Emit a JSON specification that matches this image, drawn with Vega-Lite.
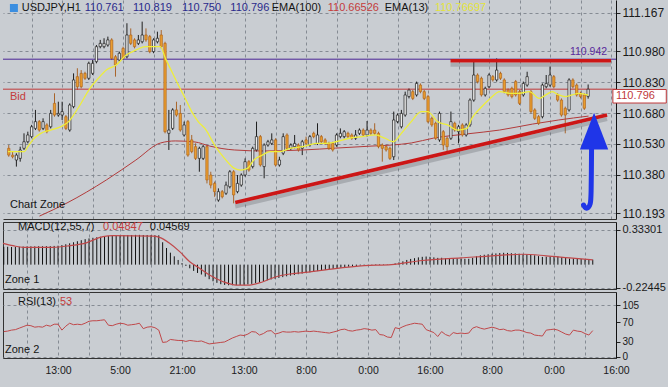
{
  "$schema": "https://vega.github.io/schema/vega-lite/v6.json",
  "padding": {"left": 0, "top": 0, "right": 1, "bottom": 11},
  "background": "#c9cdd2",
  "spacing": 3,
  "bounds": "flush",
  "config": {
    "font": "Liberation Sans",
    "view": {"stroke": "#333333", "strokeWidth": 1},
    "axis": {"labelFont": "Liberation Sans", "labelColor": "#1a1a1a", "gridColor": "#7d848c", "gridDash": [3, 3], "gridOpacity": 0.9, "domainColor": "#222222", "tickColor": "#222222", "title": null, "labelOverlap": false, "labelFlush": false, "labelBound": false}
  },
  "datasets": {
    "cd": [
      {"t":2,"o":110.508,"h":110.524,"l":110.467,"c":110.475},
      {"t":3,"o":110.475,"h":110.492,"l":110.459,"c":110.467},
      {"t":4,"o":110.451,"h":110.484,"l":110.419,"c":110.475},
      {"t":5,"o":110.459,"h":110.516,"l":110.443,"c":110.500},
      {"t":6,"o":110.508,"h":110.581,"l":110.500,"c":110.540},
      {"t":7,"o":110.540,"h":110.589,"l":110.532,"c":110.573},
      {"t":8,"o":110.565,"h":110.622,"l":110.557,"c":110.613},
      {"t":9,"o":110.605,"h":110.695,"l":110.597,"c":110.638},
      {"t":10,"o":110.638,"h":110.646,"l":110.589,"c":110.597},
      {"t":11,"o":110.605,"h":110.654,"l":110.597,"c":110.638},
      {"t":12,"o":110.622,"h":110.630,"l":110.581,"c":110.589},
      {"t":13,"o":110.613,"h":110.695,"l":110.605,"c":110.678},
      {"t":14,"o":110.727,"h":110.776,"l":110.662,"c":110.670},
      {"t":15,"o":110.670,"h":110.735,"l":110.662,"c":110.678},
      {"t":16,"o":110.670,"h":110.735,"l":110.646,"c":110.687},
      {"t":17,"o":110.662,"h":110.670,"l":110.597,"c":110.605},
      {"t":18,"o":110.597,"h":110.727,"l":110.589,"c":110.719},
      {"t":19,"o":110.711,"h":110.873,"l":110.703,"c":110.841},
      {"t":20,"o":110.857,"h":110.898,"l":110.792,"c":110.808},
      {"t":21,"o":110.873,"h":110.889,"l":110.800,"c":110.808},
      {"t":22,"o":110.873,"h":110.881,"l":110.841,"c":110.849},
      {"t":23,"o":110.849,"h":110.930,"l":110.841,"c":110.922},
      {"t":24,"o":110.873,"h":110.938,"l":110.865,"c":110.922},
      {"t":25,"o":110.930,"h":111.011,"l":110.922,"c":111.003},
      {"t":26,"o":111.003,"h":111.036,"l":110.995,"c":111.019},
      {"t":27,"o":111.003,"h":111.044,"l":110.995,"c":111.019},
      {"t":28,"o":111.011,"h":111.052,"l":111.003,"c":111.036},
      {"t":29,"o":111.036,"h":111.044,"l":110.938,"c":110.946},
      {"t":30,"o":110.954,"h":110.962,"l":110.857,"c":110.914},
      {"t":31,"o":110.938,"h":110.979,"l":110.930,"c":110.971},
      {"t":32,"o":110.995,"h":111.003,"l":110.938,"c":110.946},
      {"t":33,"o":110.954,"h":111.117,"l":110.946,"c":111.060},
      {"t":34,"o":111.060,"h":111.092,"l":111.011,"c":111.019},
      {"t":35,"o":111.036,"h":111.044,"l":110.995,"c":111.003},
      {"t":36,"o":111.019,"h":111.060,"l":111.011,"c":111.036},
      {"t":37,"o":111.027,"h":111.125,"l":111.019,"c":111.060},
      {"t":38,"o":111.060,"h":111.092,"l":111.027,"c":111.036},
      {"t":39,"o":111.052,"h":111.060,"l":110.971,"c":110.979},
      {"t":40,"o":110.979,"h":111.044,"l":110.971,"c":111.036},
      {"t":41,"o":111.027,"h":111.076,"l":111.019,"c":111.044},
      {"t":42,"o":111.060,"h":111.084,"l":110.995,"c":111.003},
      {"t":43,"o":111.019,"h":111.027,"l":110.581,"c":110.589},
      {"t":44,"o":110.581,"h":110.695,"l":110.500,"c":110.597},
      {"t":45,"o":110.605,"h":110.703,"l":110.597,"c":110.695},
      {"t":46,"o":110.695,"h":110.735,"l":110.662,"c":110.670},
      {"t":47,"o":110.678,"h":110.719,"l":110.589,"c":110.597},
      {"t":48,"o":110.573,"h":110.638,"l":110.565,"c":110.622},
      {"t":49,"o":110.638,"h":110.646,"l":110.467,"c":110.475},
      {"t":50,"o":110.549,"h":110.573,"l":110.484,"c":110.492},
      {"t":51,"o":110.516,"h":110.532,"l":110.451,"c":110.459},
      {"t":52,"o":110.459,"h":110.516,"l":110.394,"c":110.508},
      {"t":53,"o":110.459,"h":110.524,"l":110.451,"c":110.516},
      {"t":54,"o":110.516,"h":110.524,"l":110.337,"c":110.354},
      {"t":55,"o":110.378,"h":110.394,"l":110.313,"c":110.329},
      {"t":56,"o":110.337,"h":110.346,"l":110.272,"c":110.297},
      {"t":57,"o":110.256,"h":110.313,"l":110.248,"c":110.297},
      {"t":58,"o":110.297,"h":110.305,"l":110.264,"c":110.272},
      {"t":59,"o":110.289,"h":110.346,"l":110.281,"c":110.329},
      {"t":60,"o":110.321,"h":110.402,"l":110.313,"c":110.394},
      {"t":61,"o":110.394,"h":110.402,"l":110.240,"c":110.281},
      {"t":62,"o":110.297,"h":110.378,"l":110.289,"c":110.337},
      {"t":63,"o":110.329,"h":110.386,"l":110.321,"c":110.378},
      {"t":64,"o":110.378,"h":110.459,"l":110.370,"c":110.443},
      {"t":65,"o":110.443,"h":110.451,"l":110.394,"c":110.402},
      {"t":66,"o":110.419,"h":110.516,"l":110.410,"c":110.508},
      {"t":67,"o":110.500,"h":110.638,"l":110.492,"c":110.565},
      {"t":68,"o":110.565,"h":110.573,"l":110.419,"c":110.427},
      {"t":69,"o":110.419,"h":110.532,"l":110.362,"c":110.524},
      {"t":70,"o":110.524,"h":110.549,"l":110.516,"c":110.540},
      {"t":71,"o":110.532,"h":110.581,"l":110.524,"c":110.549},
      {"t":72,"o":110.549,"h":110.557,"l":110.419,"c":110.427},
      {"t":73,"o":110.427,"h":110.467,"l":110.419,"c":110.451},
      {"t":74,"o":110.484,"h":110.581,"l":110.475,"c":110.565},
      {"t":75,"o":110.573,"h":110.581,"l":110.500,"c":110.508},
      {"t":76,"o":110.508,"h":110.532,"l":110.500,"c":110.524},
      {"t":77,"o":110.516,"h":110.573,"l":110.508,"c":110.532},
      {"t":78,"o":110.524,"h":110.532,"l":110.492,"c":110.500},
      {"t":79,"o":110.508,"h":110.549,"l":110.475,"c":110.540},
      {"t":80,"o":110.549,"h":110.565,"l":110.524,"c":110.532},
      {"t":81,"o":110.524,"h":110.573,"l":110.516,"c":110.565},
      {"t":82,"o":110.581,"h":110.589,"l":110.557,"c":110.565},
      {"t":83,"o":110.532,"h":110.630,"l":110.524,"c":110.573},
      {"t":84,"o":110.565,"h":110.573,"l":110.532,"c":110.540},
      {"t":85,"o":110.549,"h":110.557,"l":110.524,"c":110.532},
      {"t":86,"o":110.532,"h":110.540,"l":110.500,"c":110.508},
      {"t":87,"o":110.532,"h":110.540,"l":110.492,"c":110.500},
      {"t":88,"o":110.524,"h":110.581,"l":110.516,"c":110.573},
      {"t":89,"o":110.565,"h":110.605,"l":110.557,"c":110.581},
      {"t":90,"o":110.565,"h":110.597,"l":110.557,"c":110.589},
      {"t":91,"o":110.581,"h":110.589,"l":110.557,"c":110.565},
      {"t":92,"o":110.573,"h":110.581,"l":110.549,"c":110.557},
      {"t":93,"o":110.557,"h":110.597,"l":110.549,"c":110.573},
      {"t":94,"o":110.581,"h":110.605,"l":110.573,"c":110.597},
      {"t":95,"o":110.597,"h":110.605,"l":110.565,"c":110.573},
      {"t":96,"o":110.573,"h":110.641,"l":110.565,"c":110.597},
      {"t":97,"o":110.597,"h":110.605,"l":110.573,"c":110.581},
      {"t":98,"o":110.597,"h":110.630,"l":110.573,"c":110.581},
      {"t":99,"o":110.581,"h":110.589,"l":110.508,"c":110.516},
      {"t":100,"o":110.524,"h":110.532,"l":110.443,"c":110.508},
      {"t":101,"o":110.516,"h":110.524,"l":110.492,"c":110.500},
      {"t":102,"o":110.508,"h":110.516,"l":110.451,"c":110.459},
      {"t":103,"o":110.467,"h":110.687,"l":110.451,"c":110.646},
      {"t":104,"o":110.638,"h":110.678,"l":110.630,"c":110.670},
      {"t":105,"o":110.613,"h":110.695,"l":110.605,"c":110.678},
      {"t":106,"o":110.670,"h":110.784,"l":110.662,"c":110.768},
      {"t":107,"o":110.760,"h":110.800,"l":110.751,"c":110.792},
      {"t":108,"o":110.784,"h":110.792,"l":110.743,"c":110.751},
      {"t":109,"o":110.768,"h":110.833,"l":110.760,"c":110.824},
      {"t":110,"o":110.816,"h":110.824,"l":110.776,"c":110.784},
      {"t":111,"o":110.784,"h":110.792,"l":110.743,"c":110.751},
      {"t":112,"o":110.760,"h":110.768,"l":110.630,"c":110.638},
      {"t":113,"o":110.654,"h":110.662,"l":110.613,"c":110.622},
      {"t":114,"o":110.630,"h":110.638,"l":110.549,"c":110.557},
      {"t":115,"o":110.549,"h":110.687,"l":110.540,"c":110.678},
      {"t":116,"o":110.589,"h":110.597,"l":110.500,"c":110.524},
      {"t":117,"o":110.557,"h":110.565,"l":110.492,"c":110.516},
      {"t":118,"o":110.557,"h":110.687,"l":110.549,"c":110.638},
      {"t":119,"o":110.630,"h":110.638,"l":110.589,"c":110.597},
      {"t":120,"o":110.589,"h":110.622,"l":110.532,"c":110.613},
      {"t":121,"o":110.622,"h":110.630,"l":110.565,"c":110.573},
      {"t":122,"o":110.573,"h":110.630,"l":110.565,"c":110.622},
      {"t":123,"o":110.622,"h":110.751,"l":110.613,"c":110.743},
      {"t":124,"o":110.743,"h":110.930,"l":110.735,"c":110.865},
      {"t":125,"o":110.865,"h":110.873,"l":110.824,"c":110.833},
      {"t":126,"o":110.849,"h":110.857,"l":110.760,"c":110.768},
      {"t":127,"o":110.768,"h":110.808,"l":110.760,"c":110.800},
      {"t":128,"o":110.808,"h":110.873,"l":110.800,"c":110.865},
      {"t":129,"o":110.857,"h":110.865,"l":110.833,"c":110.841},
      {"t":130,"o":110.841,"h":110.946,"l":110.833,"c":110.889},
      {"t":131,"o":110.873,"h":110.881,"l":110.841,"c":110.849},
      {"t":132,"o":110.841,"h":110.849,"l":110.776,"c":110.784},
      {"t":133,"o":110.792,"h":110.800,"l":110.760,"c":110.768},
      {"t":134,"o":110.800,"h":110.808,"l":110.751,"c":110.760},
      {"t":135,"o":110.833,"h":110.841,"l":110.760,"c":110.768},
      {"t":136,"o":110.784,"h":110.792,"l":110.719,"c":110.727},
      {"t":137,"o":110.768,"h":110.833,"l":110.760,"c":110.824},
      {"t":138,"o":110.816,"h":110.881,"l":110.808,"c":110.857},
      {"t":139,"o":110.784,"h":110.792,"l":110.678,"c":110.687},
      {"t":140,"o":110.695,"h":110.703,"l":110.646,"c":110.654},
      {"t":141,"o":110.662,"h":110.670,"l":110.622,"c":110.630},
      {"t":142,"o":110.662,"h":110.824,"l":110.654,"c":110.816},
      {"t":143,"o":110.808,"h":110.865,"l":110.800,"c":110.824},
      {"t":144,"o":110.816,"h":110.906,"l":110.808,"c":110.865},
      {"t":145,"o":110.857,"h":110.865,"l":110.800,"c":110.808},
      {"t":146,"o":110.768,"h":110.776,"l":110.735,"c":110.743},
      {"t":147,"o":110.743,"h":110.751,"l":110.662,"c":110.670},
      {"t":148,"o":110.703,"h":110.711,"l":110.581,"c":110.670},
      {"t":149,"o":110.695,"h":110.849,"l":110.687,"c":110.841},
      {"t":150,"o":110.841,"h":110.849,"l":110.800,"c":110.808},
      {"t":151,"o":110.816,"h":110.824,"l":110.760,"c":110.768},
      {"t":152,"o":110.776,"h":110.784,"l":110.751,"c":110.760},
      {"t":153,"o":110.768,"h":110.776,"l":110.695,"c":110.703},
      {"t":154,"o":110.761,"h":110.819,"l":110.750,"c":110.796}
    ],
    "e13": [
      {"t":1.8,"p":110.492},{"t":6.1,"p":110.492},{"t":7,"p":110.516},{"t":8.7,"p":110.557},{"t":10.4,"p":110.581},{"t":13,"p":110.597},{"t":15.6,"p":110.613},{"t":17.7,"p":110.638},{"t":19,"p":110.67},{"t":20.7,"p":110.719},{"t":23.3,"p":110.8},{"t":25.5,"p":110.849},{"t":27.6,"p":110.889},{"t":30.2,"p":110.914},{"t":32.8,"p":110.962},{"t":35.4,"p":110.987},{"t":37.9,"p":111.003},{"t":39.7,"p":111.003},{"t":41.8,"p":111.003},{"t":43.1,"p":110.946},{"t":44.8,"p":110.881},{"t":46.5,"p":110.816},{"t":48.3,"p":110.751},{"t":50,"p":110.687},{"t":51.7,"p":110.638},{"t":53.6,"p":110.601},{"t":56,"p":110.524},{"t":58.6,"p":110.459},{"t":61.2,"p":110.41},{"t":62.9,"p":110.402},{"t":64.6,"p":110.41},{"t":66.3,"p":110.451},{"t":68.5,"p":110.475},{"t":70.6,"p":110.492},{"t":73.2,"p":110.492},{"t":75.8,"p":110.508},{"t":79.2,"p":110.516},{"t":82.7,"p":110.532},{"t":85.3,"p":110.532},{"t":87.8,"p":110.54},{"t":91.3,"p":110.557},{"t":94.7,"p":110.565},{"t":98.2,"p":110.573},{"t":100.7,"p":110.557},{"t":102.9,"p":110.54},{"t":105,"p":110.581},{"t":107.6,"p":110.638},{"t":110.2,"p":110.687},{"t":111.9,"p":110.687},{"t":114.5,"p":110.638},{"t":117.1,"p":110.622},{"t":119.7,"p":110.597},{"t":122.2,"p":110.605},{"t":123.5,"p":110.654},{"t":125.7,"p":110.703},{"t":128.3,"p":110.751},{"t":130.8,"p":110.784},{"t":133.4,"p":110.776},{"t":136,"p":110.776},{"t":138.6,"p":110.784},{"t":141.2,"p":110.751},{"t":142.9,"p":110.768},{"t":144.6,"p":110.784},{"t":146.3,"p":110.768},{"t":148,"p":110.76},{"t":149.8,"p":110.768},{"t":151.5,"p":110.776},{"t":154,"p":110.767}
    ],
    "e100": [
      {"t":10.06,"p":110.178},{"t":17.29,"p":110.242},{"t":27.61,"p":110.354},{"t":35.35,"p":110.451},{"t":41.81,"p":110.534},{"t":45.68,"p":110.544},{"t":50.84,"p":110.539},{"t":54.71,"p":110.519},{"t":61.16,"p":110.5},{"t":68.9,"p":110.495},{"t":79.23,"p":110.5},{"t":87.74,"p":110.509},{"t":97.29,"p":110.519},{"t":102.45,"p":110.524},{"t":107.6,"p":110.534},{"t":113.5,"p":110.558},{"t":122.1,"p":110.578},{"t":130.8,"p":110.597},{"t":139.4,"p":110.626},{"t":146.3,"p":110.646},{"t":154.1,"p":110.665}
    ],
    "lv": [{"name":"bid","p":110.796},{"name":"mark","p":110.942}],
    "tl": [{"t":61.42,"p":110.244},{"t":158.97,"p":110.670}],
    "rs": [{"t":117.9,"p":110.934},{"t":160,"p":110.934}],
    "shaft": [{"t":154.9,"p":110.509},{"t":154.8,"p":110.266},{"t":154.6,"p":110.237},{"t":154.1,"p":110.217},{"t":153.3,"p":110.215},{"t":152.8,"p":110.232}],
    "head": [{"t":155.56,"p":110.592}],
    "tx": [
      {"t":5.42,"p":111.1914,"s":"USDJPY,H1","k":"blk"},
      {"t":21.94,"p":111.1914,"s":"110.761","k":"ohlc"},
      {"t":34.58,"p":111.1914,"s":"110.819","k":"ohlc"},
      {"t":47.48,"p":111.1914,"s":"110.750","k":"ohlc"},
      {"t":60.13,"p":111.1914,"s":"110.796","k":"ohlc"},
      {"t":70.97,"p":111.1914,"s":"EMA(100)","k":"blk"},
      {"t":85.68,"p":111.1914,"s":"110.66526","k":"red"},
      {"t":100.65,"p":111.1914,"s":"EMA(13)","k":"blk"},
      {"t":113.81,"p":111.1914,"s":"110.76697","k":"yel"},
      {"t":2.32,"p":110.758,"s":"Bid","k":"red"},
      {"t":2.32,"p":110.232,"s":"Chart Zone","k":"blk"}
    ],
    "icon": [{"t":3.35,"p":111.1914}],
    "mk": [{"t":158.97,"p":110.977,"s":"110.942"}],
    "bx": [{"t1":160.5,"t2":174.5,"p1":110.7944,"p2":110.7286,"tm":161.3,"pm":110.7615,"s":"110.796"}],
    "md": [
      {"t":2,"v":0.172},{"t":3,"v":0.172},{"t":4,"v":0.17},{"t":5,"v":0.17},{"t":6,"v":0.172},{"t":7,"v":0.174},{"t":8,"v":0.175},{"t":9,"v":0.176},{"t":10,"v":0.176},{"t":11,"v":0.177},{"t":12,"v":0.177},{"t":13,"v":0.178},{"t":14,"v":0.178},{"t":15,"v":0.18},{"t":16,"v":0.182},{"t":17,"v":0.188},{"t":18,"v":0.196},{"t":19,"v":0.205},{"t":20,"v":0.215},{"t":21,"v":0.225},{"t":22,"v":0.235},{"t":23,"v":0.245},{"t":24,"v":0.252},{"t":25,"v":0.258},{"t":26,"v":0.263},{"t":27,"v":0.268},{"t":28,"v":0.272},{"t":29,"v":0.275},{"t":30,"v":0.278},{"t":31,"v":0.28},{"t":32,"v":0.282},{"t":33,"v":0.284},{"t":34,"v":0.285},{"t":35,"v":0.285},{"t":36,"v":0.286},{"t":37,"v":0.286},{"t":38,"v":0.285},{"t":39,"v":0.285},{"t":40,"v":0.284},{"t":41,"v":0.283},{"t":42,"v":0.282},{"t":43,"v":0.215},{"t":44,"v":0.16},{"t":45,"v":0.115},{"t":46,"v":0.08},{"t":47,"v":0.045},{"t":48,"v":0.015},{"t":49,"v":-0.012},{"t":50,"v":-0.035},{"t":51,"v":-0.06},{"t":52,"v":-0.08},{"t":53,"v":-0.095},{"t":54,"v":-0.115},{"t":55,"v":-0.14},{"t":56,"v":-0.16},{"t":57,"v":-0.175},{"t":58,"v":-0.188},{"t":59,"v":-0.195},{"t":60,"v":-0.198},{"t":61,"v":-0.198},{"t":62,"v":-0.197},{"t":63,"v":-0.196},{"t":64,"v":-0.194},{"t":65,"v":-0.19},{"t":66,"v":-0.185},{"t":67,"v":-0.178},{"t":68,"v":-0.17},{"t":69,"v":-0.16},{"t":70,"v":-0.15},{"t":71,"v":-0.142},{"t":72,"v":-0.135},{"t":73,"v":-0.128},{"t":74,"v":-0.12},{"t":75,"v":-0.112},{"t":76,"v":-0.105},{"t":77,"v":-0.1},{"t":78,"v":-0.092},{"t":79,"v":-0.086},{"t":80,"v":-0.08},{"t":81,"v":-0.074},{"t":82,"v":-0.068},{"t":83,"v":-0.062},{"t":84,"v":-0.056},{"t":85,"v":-0.05},{"t":86,"v":-0.045},{"t":87,"v":-0.04},{"t":88,"v":-0.035},{"t":89,"v":-0.03},{"t":90,"v":-0.025},{"t":91,"v":-0.02},{"t":92,"v":-0.016},{"t":93,"v":-0.012},{"t":94,"v":-0.008},{"t":95,"v":-0.004},{"t":96,"v":0.001},{"t":97,"v":0.003},{"t":98,"v":0.005},{"t":99,"v":0.005},{"t":100,"v":0.004},{"t":101,"v":0.003},{"t":102,"v":0.002},{"t":103,"v":0.012},{"t":104,"v":0.022},{"t":105,"v":0.032},{"t":106,"v":0.045},{"t":107,"v":0.055},{"t":108,"v":0.062},{"t":109,"v":0.07},{"t":110,"v":0.075},{"t":111,"v":0.078},{"t":112,"v":0.075},{"t":113,"v":0.07},{"t":114,"v":0.065},{"t":115,"v":0.066},{"t":116,"v":0.062},{"t":117,"v":0.058},{"t":118,"v":0.06},{"t":119,"v":0.06},{"t":120,"v":0.058},{"t":121,"v":0.056},{"t":122,"v":0.056},{"t":123,"v":0.065},{"t":124,"v":0.08},{"t":125,"v":0.09},{"t":126,"v":0.095},{"t":127,"v":0.1},{"t":128,"v":0.105},{"t":129,"v":0.108},{"t":130,"v":0.112},{"t":131,"v":0.114},{"t":132,"v":0.113},{"t":133,"v":0.11},{"t":134,"v":0.108},{"t":135,"v":0.105},{"t":136,"v":0.1},{"t":137,"v":0.098},{"t":138,"v":0.097},{"t":139,"v":0.09},{"t":140,"v":0.082},{"t":141,"v":0.074},{"t":142,"v":0.076},{"t":143,"v":0.078},{"t":144,"v":0.08},{"t":145,"v":0.078},{"t":146,"v":0.072},{"t":147,"v":0.064},{"t":148,"v":0.058},{"t":149,"v":0.06},{"t":150,"v":0.058},{"t":151,"v":0.055},{"t":152,"v":0.052},{"t":153,"v":0.048},{"t":154,"v":0.048}
    ],
    "sg": [
      {"t":1.8,"v":0.205},{"t":4.4,"v":0.182},{"t":7,"v":0.166},{"t":14.7,"v":0.166},{"t":19,"v":0.182},{"t":23.3,"v":0.21},{"t":27.6,"v":0.27},{"t":30.2,"v":0.278},{"t":40.5,"v":0.275},{"t":42.2,"v":0.262},{"t":44.8,"v":0.205},{"t":47.4,"v":0.125},{"t":50,"v":0.028},{"t":52.6,"v":-0.036},{"t":55.1,"v":-0.1},{"t":58.6,"v":-0.164},{"t":62,"v":-0.196},{"t":65.5,"v":-0.196},{"t":68.9,"v":-0.164},{"t":72.3,"v":-0.116},{"t":75.8,"v":-0.09},{"t":79.2,"v":-0.077},{"t":85,"v":-0.05},{"t":95,"v":-0.01},{"t":102,"v":0.0},{"t":110,"v":0.04},{"t":120,"v":0.065},{"t":130,"v":0.09},{"t":136,"v":0.1},{"t":142,"v":0.085},{"t":148,"v":0.065},{"t":154,"v":0.046}
    ],
    "mt": [
      {"t":5.68,"v":0.364,"s":"MACD(12,55,7)","k":"blk"},
      {"t":27.6,"v":0.364,"s":"0.04847","k":"red"},
      {"t":39.7,"v":0.364,"s":"0.04569","k":"blk"},
      {"t":2.32,"v":-0.148,"s":"Zone 1","k":"blk"}
    ],
    "rsi": [
      {"t":2,"v":51},{"t":3,"v":52},{"t":4,"v":54},{"t":5,"v":55},{"t":6,"v":58},{"t":7,"v":61},{"t":8,"v":64},{"t":9,"v":63},{"t":10,"v":60},{"t":11,"v":61},{"t":12,"v":60},{"t":13,"v":64},{"t":14,"v":62},{"t":15,"v":66},{"t":16,"v":66},{"t":17,"v":54},{"t":18,"v":62},{"t":19,"v":68},{"t":20,"v":65},{"t":21,"v":66},{"t":22,"v":65},{"t":23,"v":68},{"t":24,"v":72},{"t":25,"v":73},{"t":26,"v":73},{"t":27,"v":74},{"t":28,"v":75},{"t":29,"v":64},{"t":30,"v":63},{"t":31,"v":66},{"t":32,"v":68},{"t":33,"v":67},{"t":34,"v":64},{"t":35,"v":65},{"t":36,"v":66},{"t":37,"v":68},{"t":38,"v":57},{"t":39,"v":60},{"t":40,"v":61},{"t":41,"v":59},{"t":42,"v":54},{"t":43,"v":29},{"t":44,"v":30},{"t":45,"v":35},{"t":46,"v":34},{"t":47,"v":33},{"t":48,"v":33},{"t":49,"v":31},{"t":50,"v":33},{"t":51,"v":32},{"t":52,"v":31},{"t":53,"v":32},{"t":54,"v":29},{"t":55,"v":26},{"t":56,"v":27},{"t":57,"v":28},{"t":58,"v":29},{"t":59,"v":30},{"t":60,"v":34},{"t":61,"v":38},{"t":62,"v":41},{"t":63,"v":44},{"t":64,"v":43},{"t":65,"v":46},{"t":66,"v":51},{"t":67,"v":50},{"t":68,"v":44},{"t":69,"v":47},{"t":70,"v":52},{"t":71,"v":53},{"t":72,"v":46},{"t":73,"v":48},{"t":74,"v":51},{"t":75,"v":50},{"t":76,"v":50},{"t":77,"v":51},{"t":78,"v":50},{"t":79,"v":51},{"t":80,"v":52},{"t":81,"v":51},{"t":82,"v":52},{"t":83,"v":51},{"t":84,"v":50},{"t":85,"v":49},{"t":86,"v":48},{"t":87,"v":50},{"t":88,"v":52},{"t":89,"v":55},{"t":90,"v":56},{"t":91,"v":53},{"t":92,"v":52},{"t":93,"v":54},{"t":94,"v":55},{"t":95,"v":57},{"t":96,"v":56},{"t":97,"v":54},{"t":98,"v":55},{"t":99,"v":45},{"t":100,"v":44},{"t":101,"v":40},{"t":102,"v":39},{"t":103,"v":59},{"t":104,"v":57},{"t":105,"v":61},{"t":106,"v":64},{"t":107,"v":66},{"t":108,"v":68},{"t":109,"v":67},{"t":110,"v":66},{"t":111,"v":55},{"t":112,"v":52},{"t":113,"v":49},{"t":114,"v":41},{"t":115,"v":51},{"t":116,"v":45},{"t":117,"v":42},{"t":118,"v":49},{"t":119,"v":47},{"t":120,"v":48},{"t":121,"v":47},{"t":122,"v":48},{"t":123,"v":58},{"t":124,"v":61},{"t":125,"v":58},{"t":126,"v":56},{"t":127,"v":58},{"t":128,"v":60},{"t":129,"v":58},{"t":130,"v":55},{"t":131,"v":56},{"t":132,"v":53},{"t":133,"v":52},{"t":134,"v":54},{"t":135,"v":54},{"t":136,"v":52},{"t":137,"v":49},{"t":138,"v":48},{"t":139,"v":44},{"t":140,"v":43},{"t":141,"v":42},{"t":142,"v":54},{"t":143,"v":55},{"t":144,"v":56},{"t":145,"v":54},{"t":146,"v":50},{"t":147,"v":46},{"t":148,"v":44},{"t":149,"v":54},{"t":150,"v":52},{"t":151,"v":51},{"t":152,"v":47},{"t":153,"v":44},{"t":154,"v":53}
    ],
    "rt": [
      {"t":5.68,"v":111.7,"s":"RSI(13)","k":"blk"},
      {"t":16.5,"v":111.7,"s":"53","k":"red"},
      {"t":2.32,"v":13.6,"s":"Zone 2","k":"blk"}
    ]
  },
  "vconcat": [
    {
      "width": 613,
      "height": 219,
      "view": {"stroke": null},
      "resolve": {"axis": {"x": "independent", "y": "independent"}},
      "layer": [
        {
          "data": {"name": "cd"},
          "mark": {"type": "rule", "strokeWidth": 1},
          "encoding": {
            "x": {"field": "t", "type": "quantitative", "scale": {"domain": [1.8, 160], "nice": false, "zero": false},
                  "axis": {"values": [8,16,24,32,40,48,56,64,72,80,88,96,104,112,120,128,136,144,152,160], "labels": false, "ticks": false, "tickSize": 0, "labelPadding": 0, "domain": true, "domainColor": "#333333", "grid": true, "labelOverlap": false}},
            "y": {"field": "l", "type": "quantitative", "scale": {"domain": [110.1638, 111.2303], "nice": false, "zero": false},
                  "axis": {"orient": "right", "values": [110.193, 110.38, 110.53, 110.68, 110.83, 110.98, 111.167], "format": ".3f", "labelFontSize": 12, "tickSize": 4, "labelPadding": 2, "grid": true, "domainColor": "#111111", "labelOverlap": false, "labelFlush": false}},
            "y2": {"field": "h"},
            "color": {"condition": {"test": "datum.c >= datum.o", "value": "#1e1e1e"}, "value": "#a8642a"}
          }
        },
        {
          "data": {"name": "lv"},
          "transform": [{"filter": "datum.name == 'mark'"}],
          "mark": {"type": "rule", "color": "#4b2396", "strokeWidth": 1},
          "encoding": {"y": {"field": "p", "type": "quantitative", "scale": {"domain": [110.1638, 111.2303], "nice": false, "zero": false}, "axis": null}}
        },
        {
          "data": {"name": "lv"},
          "transform": [{"filter": "datum.name == 'bid'"}],
          "mark": {"type": "rule", "color": "#c0393b", "strokeWidth": 1},
          "encoding": {"y": {"field": "p", "type": "quantitative", "scale": {"domain": [110.1638, 111.2303], "nice": false, "zero": false}, "axis": null}}
        },
        {
          "data": {"name": "e100"},
          "mark": {"type": "line", "color": "#b23b3b", "strokeWidth": 1, "interpolate": "monotone"},
          "encoding": {
            "x": {"field": "t", "type": "quantitative", "scale": {"domain": [1.8, 160], "nice": false, "zero": false}, "axis": null},
            "y": {"field": "p", "type": "quantitative", "scale": {"domain": [110.1638, 111.2303], "nice": false, "zero": false}, "axis": null}
          }
        },
        {
          "data": {"name": "cd"},
          "mark": {"type": "bar", "width": 2.3, "strokeWidth": 0.7},
          "encoding": {
            "x": {"field": "t", "type": "quantitative", "scale": {"domain": [1.8, 160], "nice": false, "zero": false}, "axis": null},
            "y": {"field": "o", "type": "quantitative", "scale": {"domain": [110.1638, 111.2303], "nice": false, "zero": false}, "axis": null},
            "y2": {"field": "c"},
            "fill": {"condition": {"test": "datum.c >= datum.o", "value": "#ececec"}, "value": "#eb9e2f"},
            "stroke": {"condition": {"test": "datum.c >= datum.o", "value": "#1e1e1e"}, "value": "#b0661c"}
          }
        },
        {
          "data": {"name": "e13"},
          "mark": {"type": "line", "color": "#eeee3a", "strokeWidth": 1.3, "interpolate": "monotone"},
          "encoding": {
            "x": {"field": "t", "type": "quantitative", "scale": {"domain": [1.8, 160], "nice": false, "zero": false}, "axis": null},
            "y": {"field": "p", "type": "quantitative", "scale": {"domain": [110.1638, 111.2303], "nice": false, "zero": false}, "axis": null}
          }
        },
        {
          "data": {"name": "tl"},
          "mark": {"type": "line", "color": "#5c6066", "strokeWidth": 4, "opacity": 0.3, "yOffset": 4},
          "encoding": {
            "x": {"field": "t", "type": "quantitative", "scale": {"domain": [1.8, 160], "nice": false, "zero": false}, "axis": null},
            "y": {"field": "p", "type": "quantitative", "scale": {"domain": [110.1638, 111.2303], "nice": false, "zero": false}, "axis": null}
          }
        },
        {
          "data": {"name": "tl"},
          "mark": {"type": "line", "color": "#cc1616", "strokeWidth": 3.5},
          "encoding": {
            "x": {"field": "t", "type": "quantitative", "scale": {"domain": [1.8, 160], "nice": false, "zero": false}, "axis": null},
            "y": {"field": "p", "type": "quantitative", "scale": {"domain": [110.1638, 111.2303], "nice": false, "zero": false}, "axis": null}
          }
        },
        {
          "data": {"name": "rs"},
          "mark": {"type": "line", "color": "#5c6066", "strokeWidth": 4, "opacity": 0.3, "yOffset": 4},
          "encoding": {
            "x": {"field": "t", "type": "quantitative", "scale": {"domain": [1.8, 160], "nice": false, "zero": false}, "axis": null},
            "y": {"field": "p", "type": "quantitative", "scale": {"domain": [110.1638, 111.2303], "nice": false, "zero": false}, "axis": null}
          }
        },
        {
          "data": {"name": "rs"},
          "mark": {"type": "line", "color": "#cc1616", "strokeWidth": 3.5},
          "encoding": {
            "x": {"field": "t", "type": "quantitative", "scale": {"domain": [1.8, 160], "nice": false, "zero": false}, "axis": null},
            "y": {"field": "p", "type": "quantitative", "scale": {"domain": [110.1638, 111.2303], "nice": false, "zero": false}, "axis": null}
          }
        },
        {
          "data": {"name": "shaft"},
          "mark": {"type": "line", "color": "#1f35e8", "strokeWidth": 5, "interpolate": "basis", "strokeCap": "round"},
          "encoding": {
            "x": {"field": "t", "type": "quantitative", "scale": {"domain": [1.8, 160], "nice": false, "zero": false}, "axis": null},
            "y": {"field": "p", "type": "quantitative", "scale": {"domain": [110.1638, 111.2303], "nice": false, "zero": false}, "axis": null},
            "order": {"value": 0}
          }
        },
        {
          "data": {"name": "head"},
          "mark": {"type": "point", "shape": "M0,-1.3L-1,1.3L1,1.3Z", "size": 800, "filled": true, "color": "#1f35e8", "opacity": 1},
          "encoding": {
            "x": {"field": "t", "type": "quantitative", "scale": {"domain": [1.8, 160], "nice": false, "zero": false}, "axis": null},
            "y": {"field": "p", "type": "quantitative", "scale": {"domain": [110.1638, 111.2303], "nice": false, "zero": false}, "axis": null}
          }
        },
        {
          "data": {"name": "tx"},
          "mark": {"type": "text", "align": "left", "baseline": "middle", "font": "Liberation Sans", "fontSize": 11},
          "encoding": {
            "x": {"field": "t", "type": "quantitative", "scale": {"domain": [1.8, 160], "nice": false, "zero": false}, "axis": null},
            "y": {"field": "p", "type": "quantitative", "scale": {"domain": [110.1638, 111.2303], "nice": false, "zero": false}, "axis": null},
            "text": {"field": "s"},
            "color": {"field": "k", "type": "nominal", "scale": {"domain": ["blk", "ohlc", "red", "yel"], "range": ["#141414", "#2a2a8c", "#c43c3c", "#e4e43a"]}, "legend": null}
          }
        },
        {
          "data": {"name": "icon"},
          "mark": {"type": "square", "size": 64, "color": "#3b8ee0", "opacity": 1},
          "encoding": {
            "x": {"field": "t", "type": "quantitative", "scale": {"domain": [1.8, 160], "nice": false, "zero": false}, "axis": null},
            "y": {"field": "p", "type": "quantitative", "scale": {"domain": [110.1638, 111.2303], "nice": false, "zero": false}, "axis": null}
          }
        },
        {
          "data": {"name": "mk"},
          "mark": {"type": "text", "align": "right", "baseline": "middle", "font": "Liberation Sans", "fontSize": 10.5, "color": "#5a2a9c"},
          "encoding": {
            "x": {"field": "t", "type": "quantitative", "scale": {"domain": [1.8, 160], "nice": false, "zero": false}, "axis": null},
            "y": {"field": "p", "type": "quantitative", "scale": {"domain": [110.1638, 111.2303], "nice": false, "zero": false}, "axis": null},
            "text": {"field": "s"}
          }
        },
        {
          "data": {"name": "bx"},
          "mark": {"type": "rect", "fill": "#ffffff", "stroke": "#c0393b", "strokeWidth": 1},
          "encoding": {
            "x": {"field": "t1", "type": "quantitative", "scale": {"domain": [1.8, 160], "nice": false, "zero": false}, "axis": null},
            "x2": {"field": "t2"},
            "y": {"field": "p1", "type": "quantitative", "scale": {"domain": [110.1638, 111.2303], "nice": false, "zero": false}, "axis": null},
            "y2": {"field": "p2"}
          }
        },
        {
          "data": {"name": "bx"},
          "mark": {"type": "text", "align": "left", "baseline": "middle", "font": "Liberation Sans", "fontSize": 11, "color": "#c0393b"},
          "encoding": {
            "x": {"field": "tm", "type": "quantitative", "scale": {"domain": [1.8, 160], "nice": false, "zero": false}, "axis": null},
            "y": {"field": "pm", "type": "quantitative", "scale": {"domain": [110.1638, 111.2303], "nice": false, "zero": false}, "axis": null},
            "text": {"field": "s"}
          }
        }
      ]
    },
    {
      "width": 613,
      "height": 67,
      "resolve": {"axis": {"x": "independent", "y": "independent"}},
      "layer": [
        {
          "data": {"name": "md"},
          "mark": {"type": "rule", "color": "#111111", "strokeWidth": 1},
          "encoding": {
            "x": {"field": "t", "type": "quantitative", "scale": {"domain": [1.8, 160], "nice": false, "zero": false},
                  "axis": {"values": [8,16,24,32,40,48,56,64,72,80,88,96,104,112,120,128,136,144,152,160], "labels": false, "ticks": false, "tickSize": 0, "labelPadding": 0, "domain": false, "grid": true}},
            "y": {"field": "v", "type": "quantitative", "scale": {"domain": [-0.2341, 0.4099], "nice": false, "zero": false},
                  "axis": {"orient": "right", "values": [-0.22445, 0.33301], "labelExpr": "(datum.value < 0 ? '-' : '') + format(abs(datum.value), '.5f')", "labelFontSize": 11, "tickSize": 4, "labelPadding": 2, "grid": true, "domainColor": "#111111", "labelOverlap": false, "labelFlush": false}},
            "y2": {"datum": 0}
          }
        },
        {
          "data": {"name": "sg"},
          "mark": {"type": "line", "color": "#c0484a", "strokeWidth": 1.2, "interpolate": "monotone"},
          "encoding": {
            "x": {"field": "t", "type": "quantitative", "scale": {"domain": [1.8, 160], "nice": false, "zero": false}, "axis": null},
            "y": {"field": "v", "type": "quantitative", "scale": {"domain": [-0.2341, 0.4099], "nice": false, "zero": false}, "axis": null}
          }
        },
        {
          "data": {"name": "mt"},
          "mark": {"type": "text", "align": "left", "baseline": "middle", "font": "Liberation Sans", "fontSize": 11},
          "encoding": {
            "x": {"field": "t", "type": "quantitative", "scale": {"domain": [1.8, 160], "nice": false, "zero": false}, "axis": null},
            "y": {"field": "v", "type": "quantitative", "scale": {"domain": [-0.2341, 0.4099], "nice": false, "zero": false}, "axis": null},
            "text": {"field": "s"},
            "color": {"field": "k", "type": "nominal", "scale": {"domain": ["blk", "red"], "range": ["#141414", "#c43c3c"]}, "legend": null}
          }
        }
      ]
    },
    {
      "width": 613,
      "height": 66,
      "resolve": {"axis": {"x": "independent", "y": "independent"}},
      "layer": [
        {
          "data": {"name": "rsi"},
          "mark": {"type": "line", "color": "#c0484a", "strokeWidth": 1},
          "encoding": {
            "x": {"field": "t", "type": "quantitative", "scale": {"domain": [1.8, 160], "nice": false, "zero": false},
                  "axis": {"values": [8,16,24,32,40,48,56,64,72,80,88,96,104,112,120,128,136,144,152,160], "labelExpr": "datum.value % 16 == 0 ? ['','13:00','5:00','21:00','13:00','8:00','0:00','16:00','8:00','0:00','16:00'][datum.value / 16] : ''", "labelFontSize": 10.5, "labelPadding": 7, "ticks": false, "domain": false, "grid": true, "labelOverlap": false, "labelFlush": false}},
            "y": {"field": "v", "type": "quantitative", "scale": {"domain": [-2.6, 131.4], "nice": false, "zero": false},
                  "axis": {"orient": "right", "values": [0, 30, 70, 105], "labelFontSize": 10, "tickSize": 4, "labelPadding": 2, "grid": true, "labelOverlap": false, "labelFlush": false,
                           "gridColor": {"condition": {"test": "datum.value == 0 || datum.value == 105", "value": "#7d848c"}, "value": "rgba(0,0,0,0)"}, "domainColor": "#111111"}}
          }
        },
        {
          "data": {"name": "rt"},
          "mark": {"type": "text", "align": "left", "baseline": "middle", "font": "Liberation Sans", "fontSize": 11},
          "encoding": {
            "x": {"field": "t", "type": "quantitative", "scale": {"domain": [1.8, 160], "nice": false, "zero": false}, "axis": null},
            "y": {"field": "v", "type": "quantitative", "scale": {"domain": [-2.6, 131.4], "nice": false, "zero": false}, "axis": null},
            "text": {"field": "s"},
            "color": {"field": "k", "type": "nominal", "scale": {"domain": ["blk", "red"], "range": ["#141414", "#c43c3c"]}, "legend": null}
          }
        }
      ]
    }
  ]
}
